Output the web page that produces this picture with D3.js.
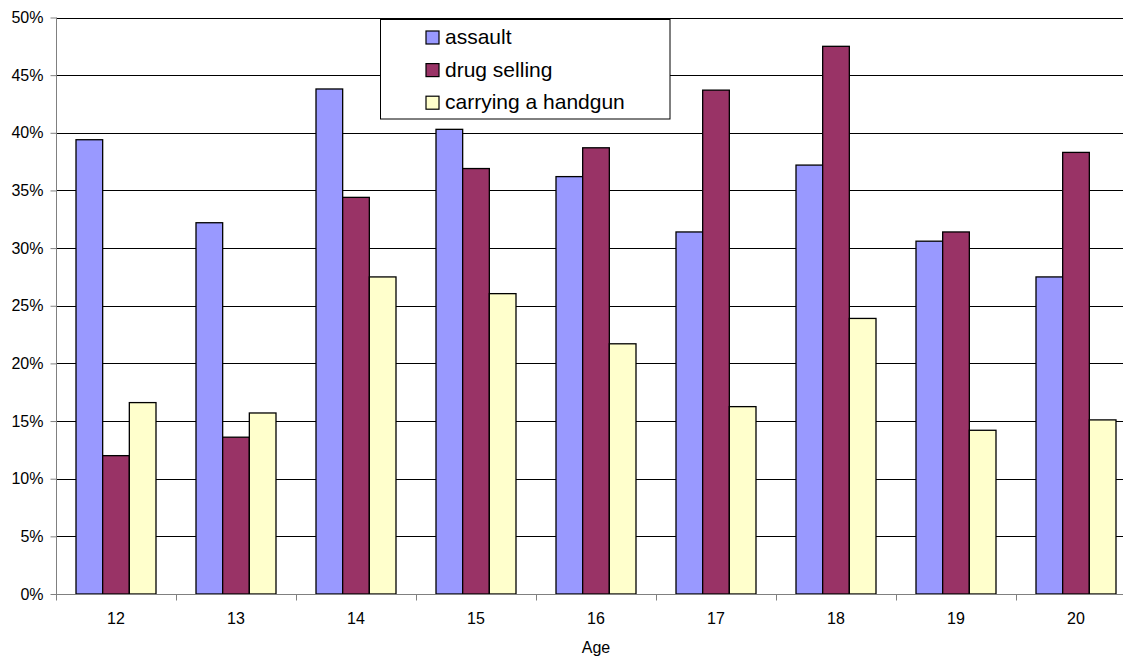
<!DOCTYPE html>
<html>
<head>
<meta charset="utf-8">
<script src="https://cdn.jsdelivr.net/npm/d3@7"></script>
<style>
  html, body { margin: 0; padding: 0; background: #fff; }
  svg { display: block; font-family: "Liberation Sans", Arial, sans-serif; }
</style>
</head>
<body>
<svg id="chart" width="1123" height="656"></svg>
<script>
const ages = ["12", "13", "14", "15", "16", "17", "18", "19", "20"];
const seriesNames = ["assault", "drug selling", "carrying a handgun"];
const assault = [0.394, 0.322, 0.438, 0.403, 0.362, 0.314, 0.372, 0.306, 0.275];
const drugSelling = [0.120, 0.136, 0.344, 0.369, 0.387, 0.437, 0.475, 0.314, 0.383];
const handgun = [0.166, 0.157, 0.275, 0.2605, 0.217, 0.1625, 0.239, 0.142, 0.151];
const colors = ["#9999FF", "#993366", "#FFFFCC"];
const yTicks = [0, 0.05, 0.10, 0.15, 0.20, 0.25, 0.30, 0.35, 0.40, 0.45, 0.50];

(function () {
const seriesValues = [assault, drugSelling, handgun];
const svg = d3.select("#chart");

const pLeft = 56, pRight = 1136, pTop = 17.5, pBottom = 594;

const x0 = d3.scaleBand().domain(ages).range([pLeft, pRight]).padding(0);
const x1 = d3.scaleBand().domain(seriesNames).range([20, 100]).padding(0);
const y = d3.scaleLinear().domain([0, 0.5]).range([pBottom, pTop]);

// gridlines
svg.append("g").selectAll("line").data(yTicks.filter(d => d > 0)).join("line")
  .attr("x1", pLeft).attr("x2", pRight)
  .attr("y1", d => Math.round(y(d)) + 0.5).attr("y2", d => Math.round(y(d)) + 0.5)
  .attr("stroke", "#000").attr("stroke-width", 1);

// bars
const groups = svg.append("g").selectAll("g").data(ages).join("g")
  .attr("transform", d => `translate(${x0(d)},0)`);
groups.selectAll("rect").data((a, i) => seriesNames.map((s, j) => ({ s, j, v: seriesValues[j][i] })))
  .join("rect")
  .attr("x", d => x1(d.s))
  .attr("width", x1.bandwidth())
  .attr("y", d => y(d.v))
  .attr("height", d => pBottom - y(d.v))
  .attr("fill", d => colors[d.j])
  .attr("stroke", "#000").attr("stroke-width", 1.3);

// y axis
const yAxis = d3.axisLeft(y).tickValues(yTicks).tickSize(6).tickPadding(7)
  .tickFormat(d => Math.round(d * 100) + "%");
const gy = svg.append("g").attr("transform", `translate(${pLeft + 0.5},0)`).call(yAxis);
gy.select(".domain").attr("stroke", "#808080").attr("d", `M0,${pTop}V${pBottom}`);
gy.selectAll(".tick line").attr("stroke", "#808080");
gy.selectAll(".tick text").attr("font-size", 16).attr("fill", "#000")
  .attr("font-family", "Liberation Sans, Arial, sans-serif");

// x axis
const gx = svg.append("g").attr("transform", `translate(0,${pBottom + 0.5})`);
gx.append("line").attr("x1", pLeft).attr("x2", pRight).attr("stroke", "#808080");
gx.selectAll("line.tk").data(ages).join("line").attr("class", "tk")
  .attr("x1", d => Math.round(x0(d)) + 0.5).attr("x2", d => Math.round(x0(d)) + 0.5)
  .attr("y1", 0).attr("y2", 6).attr("stroke", "#808080");
gx.selectAll("text").data(ages).join("text")
  .attr("x", d => x0(d) + x0.bandwidth() / 2)
  .attr("y", 29.5)
  .attr("text-anchor", "middle")
  .attr("font-size", 16)
  .text(d => d);

svg.append("text").attr("x", (pLeft + pRight) / 2).attr("y", 652.5)
  .attr("text-anchor", "middle").attr("font-size", 16).text("Age");

// legend
const lg = svg.append("g");
lg.append("rect").attr("x", 380.5).attr("y", 19.5).attr("width", 289.5).attr("height", 99.5)
  .attr("fill", "#fff").attr("stroke", "#000").attr("stroke-width", 1);
const rows = lg.selectAll("g").data(seriesNames).join("g")
  .attr("transform", (d, i) => `translate(0,${i * 32.6})`);
rows.append("rect").attr("x", 426).attr("y", 31).attr("width", 13).attr("height", 13)
  .attr("fill", (d, i) => colors[i]).attr("stroke", "#000").attr("stroke-width", 1.2);
rows.append("text").attr("x", 445).attr("y", 44).attr("font-size", 21).text(d => d);
})();
</script>
</body>
</html>
